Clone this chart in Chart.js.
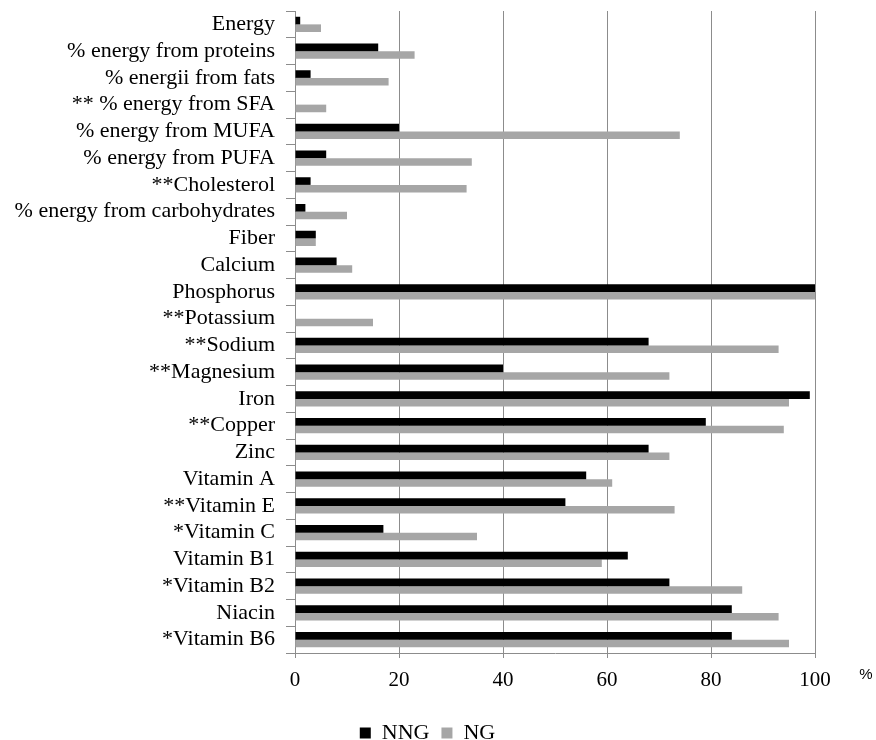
<!DOCTYPE html>
<html>
<head>
<meta charset="utf-8">
<script src="https://cdn.jsdelivr.net/npm/chart.js@4"></script>
<style>
  html, body { margin: 0; padding: 0; background: #fff; }
  #wrap { width: 876px; height: 740px; }
</style>
</head>
<body>
<div id="wrap"><canvas id="barChart" width="876" height="740"></canvas></div>
<script>
const nutrients = [
  'Energy', '% energy from proteins', '% energii from fats', '** % energy from SFA',
  '% energy from MUFA', '% energy from PUFA', '**Cholesterol', '% energy from carbohydrates',
  'Fiber', 'Calcium', 'Phosphorus', '**Potassium', '**Sodium', '**Magnesium', 'Iron',
  '**Copper', 'Zinc', 'Vitamin A', '**Vitamin E', '*Vitamin C', 'Vitamin B1',
  '*Vitamin B2', 'Niacin', '*Vitamin B6'
];
const nngVals = [1, 16, 3, 0, 20, 6, 3, 2, 4, 8, 100, 0, 68, 40, 99, 79, 68, 56, 52, 17, 64, 72, 84, 84];
const ngVals = [5, 23, 18, 6, 74, 34, 33, 10, 4, 11, 100, 15, 93, 72, 95, 94, 72, 61, 73, 35, 59, 86, 93, 95];
const xTicks = [0, 20, 40, 60, 80, 100];

const serif = "'Liberation Serif', 'Times New Roman', serif";
const gridCol = '#8c8c8c';

// the "%" unit sits to the right of the x tick labels
const unitLabel = {
  id: 'unitLabel',
  afterDraw(chart) {
    const ctx = chart.ctx;
    const area = chart.chartArea;
    ctx.save();
    ctx.font = "15px 'Liberation Sans', Arial, sans-serif";
    ctx.fillStyle = '#000';
    ctx.textAlign = 'center';
    ctx.textBaseline = 'middle';
    ctx.fillText('%', area.right + 51, area.bottom + 22);
    ctx.restore();
  }
};

// legend sits a bit lower and right of centre in the original
const legendShift = {
  id: 'legendShift',
  afterLayout(chart) {
    const lg = chart.legend;
    lg.left += 20; lg.right += 20;
    lg.top += 14; lg.bottom += 14;
  }
};

const ctx = document.getElementById('barChart').getContext('2d');
new Chart(ctx, {
  type: 'bar',
  data: {
    labels: nutrients,
    datasets: [
      { label: 'NNG', data: nngVals, backgroundColor: '#000000', borderWidth: 0 },
      { label: 'NG', data: ngVals, backgroundColor: '#a6a6a6', borderWidth: 0 }
    ]
  },
  options: {
    indexAxis: 'y',
    responsive: false,
    animation: false,
    categoryPercentage: 0.57,
    barPercentage: 1.0,
    layout: { padding: { top: 0, right: 61, bottom: 0, left: 0 } },
    plugins: {
      legend: {
        position: 'bottom',
        labels: {
          color: '#000',
          boxWidth: 11,
          boxHeight: 11,
          padding: 12,
          font: { family: serif, size: 22 }
        }
      },
      tooltip: { enabled: false }
    },
    scales: {
      x: {
        min: 0,
        max: 100,
        afterBuildTicks: (scale) => { scale.ticks = xTicks.map(v => ({ value: v })); },
        afterFit: (scale) => { scale.height = 43; },
        grid: { color: gridCol, lineWidth: 1, tickLength: 5 },
        border: { color: gridCol, width: 1 },
        ticks: { color: '#000', padding: 10, font: { family: serif, size: 21 } }
      },
      y: {
        afterFit: (scale) => { scale.width = 295; },
        grid: { drawOnChartArea: false, color: gridCol, tickLength: 9 },
        border: { color: gridCol, width: 1 },
        ticks: { color: '#000', padding: 11, autoSkip: false, font: { family: serif, size: 22, lineHeight: 0 } }
      }
    }
  },
  plugins: [unitLabel, legendShift]
});
</script>
</body>
</html>
